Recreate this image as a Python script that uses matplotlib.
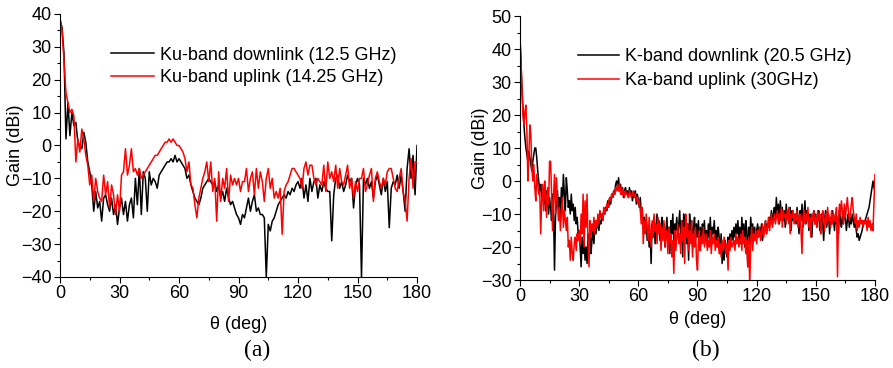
import matplotlib
matplotlib.use("Agg")
import matplotlib.pyplot as plt
import numpy as np
from matplotlib.ticker import MultipleLocator

plt.rcParams['font.family'] = ['Liberation Sans', 'DejaVu Sans']

# ---- panel (a): Ku-band, 1 deg steps ----
theta_a = np.arange(0, 181, 1)
ku_down = [
    38, 36, 28, 2, 13, 3, 10, 6, 7, 1,
    0, -1, 4, 1, -5, -8, -12, -20, -14, -19,
    -17, -23, -16, -15, -18, -20, -16, -21, -18, -24,
    -19, -16, -21, -17, -23, -18, -16, -22, -10, -18,
    -7, -21, -8, -10, -20, -8, -12, -10, -11, -13,
    -9, -8, -7, -6, -5, -5, -4, -5, -3, -5,
    -4, -5, -6, -7, -10, -9, -12, -14, -16, -17,
    -18, -16, -13, -12, -11, -10, -11, -12, -11, -14,
    -12, -16, -14, -17, -13, -16, -18, -17, -19, -21,
    -22, -24, -21, -22, -19, -16, -20, -17, -15, -20,
    -19, -21, -21, -22, -40, -24, -26, -23, -22, -20,
    -18, -17, -16, -15, -16, -14, -15, -13, -14, -12,
    -11, -13, -10, -16, -12, -17, -10, -14, -11, -10,
    -16, -12, -14, -11, -13, -14, -14, -29, -15, -10,
    -9, -13, -11, -14, -12, -9, -11, -10, -19, -12,
    -10, -12, -40, -10, -12, -10, -13, -11, -16, -11,
    -9, -12, -15, -10, -14, -11, -25, -13, -11, -12,
    -9, -13, -9, -14, -20, -7, -1, -10, -3, -15,
    0,
]
ku_up = [
    39, 35, 26, 16, 13, 10, 11, 9, -5, 2,
    -2, 5, 2, -3, -6, -12, -9, -17, -10, -14,
    -16, -17, -9, -15, -11, -19, -12, -15, -21, -15,
    -20, -9, -8, -1, -9, -6, -1, -8, -7, -9,
    -7, -10, -9, -8, -7, -6, -5, -4, -3, -3,
    -2, -1, 0, 1, 1, 2, 1, 2, 1, 0,
    0, -1, -2, -4, -8, -5, -12, -13, -18, -22,
    -16, -13, -10, -8, -5, -11, -5, -14, -10, -23,
    -8, -17, -10, -13, -7, -17, -9, -12, -10, -12,
    -10, -14, -11, -11, -7, -14, -10, -8, -15, -7,
    -13, -8, -11, -17, -10, -7, -13, -10, -16, -14,
    -16, -13, -27, -14, -12, -11, -9, -7, -7, -8,
    -9, -10, -13, -7, -5, -9, -6, -6, -10, -12,
    -10, -11, -12, -6, -14, -5, -10, -8, -11, -6,
    -13, -7, -11, -12, -9, -6, -13, -10, -16, -11,
    -14, -10, -10, -7, -14, -12, -9, -7, -17, -10,
    -8, -11, -13, -10, -12, -8, -7, -7, -10, -13,
    -14, -10, -7, -14, -17, -23, -10, -4, -13, -5,
    -5,
]

# ---- panel (b): K / Ka-band, 0.5 deg steps ----
theta_b = np.arange(0, 180.5, 0.5)
k_down = [
    43, 36, 28, 22, 17, 13, 10, 8, 6, 9, 7, 5, 3, 6, 8, 10, 10, 7, 3, 0,
    -3, -1, -5, -2, -7, -4, -9, -3, -6, -10, -5, -8, -12, -4, -9, -27, -11, -6, -3, -8,
    -5, -11, -2, -7, 2, -4, -9, 1, -3, -8, -6, -10, -4, -9, -7, -12, -8, -13, -11, -16,
    -15, -20, -26, -17, -22, -18, -24, -20, -25, -16, -21, -14, -22, -18, -15, -19, -13, -16, -14, -12,
    -15, -12, -13, -10, -11, -9, -10, -8, -9, -6, -8, -5, -7, -4, -5, -3, -4, -1, 0, -2,
    1, -3, -1, -4, -2, -5, -3, -2, -4, -3, -5, -2, -4, -3, -6, -4, -5, -3, -7, -4,
    -6, -8, -5, -10, -9, -13, -11, -15, -12, -18, -14, -20, -16, -25, -13, -17, -11, -19, -14, -10,
    -16, -12, -18, -14, -11, -17, -13, -20, -15, -11, -18, -14, -22, -12, -16, -10, -19, -13, -15, -11,
    -17, -13, -9, -18, -12, -23, -10, -15, -11, -19, -13, -24, -10, -16, -12, -20, -14, -11, -18, -13,
    -17, -12, -21, -14, -19, -13, -16, -12, -18, -15, -20, -13, -17, -11, -19, -14, -16, -12, -18, -15,
    -20, -14, -17, -22, -16, -25, -19, -24, -18, -21, -23, -17, -20, -16, -19, -15, -18, -14, -17, -13,
    -16, -12, -18, -14, -19, -11, -17, -13, -20, -12, -15, -26, -14, -19, -11, -16, -13, -18, -14, -17,
    -15, -13, -17, -14, -16, -13, -18, -14, -15, -12, -16, -13, -14, -11, -12, -9, -13, -10, -8, -12,
    -5, -11, -7, -13, -6, -10, -8, -12, -9, -14, -7, -11, -10, -13, -8, -15, -9, -12, -11, -10,
    -13, -8, -11, -16, -9, -12, -7, -14, -10, -6, -13, -9, -11, -15, -10, -12, -17, -11, -9, -13,
    -10, -14, -11, -9, -15, -12, -10, -13, -18, -11, -9, -14, -12, -10, -16, -11, -13, -9, -12, -15,
    -10, -13, -11, -16, -9, -12, -14, -10, -13, -9, -11, -15, -12, -10, -14, -11, -13, -10, -12, -14,
    -12, -15, -17, -16, -18, -17, -16, -15, -13, -12, -12, -11, -10, -9, -8, -6, -4, -2, 0, -2,
    -3,
]
ka_up = [
    44, 36, 28, 20, 17, 21, 23, 15, 0, 8, 17, 14, 4, 0, 5, -2, -6, 2, -1, -4,
    -3, -16, -6, -1, -9, 0, -4, -11, -2, -7, 6, 6, -3, -15, -5, 2, -10, 1, -6, -12,
    -8, -15, -10, -5, -14, -9, -12, -15, -11, -20, -18, -24, -17, -22, -24, -19, -17, -21, -16, -18,
    -15, -19, -10, -16, -4, -20, -6, -14, -4, -18, -26, -12, -17, -13, -15, -11, -16, -12, -14, -10,
    -13, -9, -11, -10, -12, -8, -10, -9, -7, -8, -6, -5, -6, -4, -5, -3, -4, -2, -3, -1,
    -3, -1, -4, -2, -4, -3, -5, -3, -4, -4, -5, -3, -4, -5, -4, -3, -5, -4, -6, -5,
    -7, -6, -9, -13, -8, -19, -12, -16, -10, -14, -18, -11, -15, -20, -12, -17, -10, -15, -13, -19,
    -11, -16, -13, -21, -14, -18, -12, -20, -15, -17, -22, -14, -19, -16, -23, -18, -28, -15, -21, -17,
    -13, -19, -16, -22, -12, -18, -14, -25, -10, -17, -13, -21, -15, -19, -12, -23, -16, -20, -14, -24,
    -27, -18, -15, -21, -17, -19, -14, -20, -18, -16, -21, -18, -20, -15, -22, -17, -19, -16, -21, -18,
    -20, -17, -22, -19, -23, -18, -21, -17, -20, -22, -19, -27, -18, -21, -17, -20, -19, -18, -21, -16,
    -19, -17, -20, -18, -16, -21, -15, -19, -17, -22, -18, -26, -17, -32, -19, -14, -21, -16, -18, -15,
    -19, -15, -17, -14, -18, -16, -13, -17, -15, -12, -16, -14, -11, -15, -13, -10, -14, -12, -10, -13,
    -11, -9, -13, -10, -12, -8, -14, -9, -11, -10, -13, -9, -12, -8, -16, -10, -11, -9, -13, -10,
    -12, -9, -14, -11, -10, -15, -22, -11, -9, -13, -10, -12, -8, -14, -11, -17, -10, -12, -9, -13,
    -11, -14, -9, -12, -10, -16, -13, -9, -11, -15, -10, -13, -8, -12, -11, -14, -9, -13, -10, -12,
    -11, -8, -29, -12, -7, -10, -6, -9, -13, -7, -11, -8, -5, -9, -12, -10, -7, -5, -9, -11,
    -13, -10, -15, -12, -14, -11, -13, -12, -14, -12, -13, -12, -15, -11, -14, -12, -15, -13, -15, -6,
    2,
]

FS = 13

fig = plt.figure(figsize=(8.93, 3.68), dpi=100)
ax1 = fig.add_axes([0.0672, 0.2473, 0.3998, 0.7147])
ax2 = fig.add_axes([0.5823, 0.2391, 0.3975, 0.7174])


def style_axes(ax, ylim, ymaj, xpad, ypad):
    ax.set_xlim(0, 180)
    ax.set_ylim(*ylim)
    ax.xaxis.set_major_locator(MultipleLocator(30))
    ax.xaxis.set_minor_locator(MultipleLocator(15))
    ax.yaxis.set_major_locator(MultipleLocator(ymaj))
    ax.yaxis.set_minor_locator(MultipleLocator(ymaj / 2))
    ax.spines['top'].set_visible(False)
    ax.spines['right'].set_visible(False)
    ax.tick_params(which='major', direction='out', length=4, width=0.8, labelsize=FS, pad=2)
    ax.tick_params(which='minor', direction='out', length=2, width=0.8)
    ax.set_xlabel('θ (deg)', fontsize=FS, labelpad=xpad)
    ax.set_ylabel('Gain (dBi)', fontsize=FS, labelpad=ypad)


ax1.plot(theta_a, ku_down, color='black', lw=1.1, label='Ku-band downlink (12.5 GHz)')
ax1.plot(theta_a, ku_up, color='red', lw=1.1, label='Ku-band uplink (14.25 GHz)')
style_axes(ax1, (-40, 40), 10, xpad=10, ypad=-2)
ax1.legend(loc='upper left', bbox_to_anchor=(0.143, 0.876), frameon=False, fontsize=FS,
           handlelength=2.4, handletextpad=0.3, labelspacing=0.3, borderpad=0, borderaxespad=0)

ax2.plot(theta_b, k_down, color='black', lw=1.1, label='K-band downlink (20.5 GHz)')
ax2.plot(theta_b, ka_up, color='red', lw=1.1, label='Ka-band uplink (30GHz)')
style_axes(ax2, (-30, 50), 10, xpad=4, ypad=-6)
ax2.legend(loc='upper left', bbox_to_anchor=(0.163, 0.879), frameon=False, fontsize=FS,
           handlelength=2.3, handletextpad=0.3, labelspacing=0.4, borderpad=0, borderaxespad=0)

fig.text(0.2875, 0.048, '(a)', ha='center', va='center', fontsize=17, family='Liberation Serif')
fig.text(0.79, 0.048, '(b)', ha='center', va='center', fontsize=17, family='Liberation Serif')

fig.savefig('out.png', dpi=100)
